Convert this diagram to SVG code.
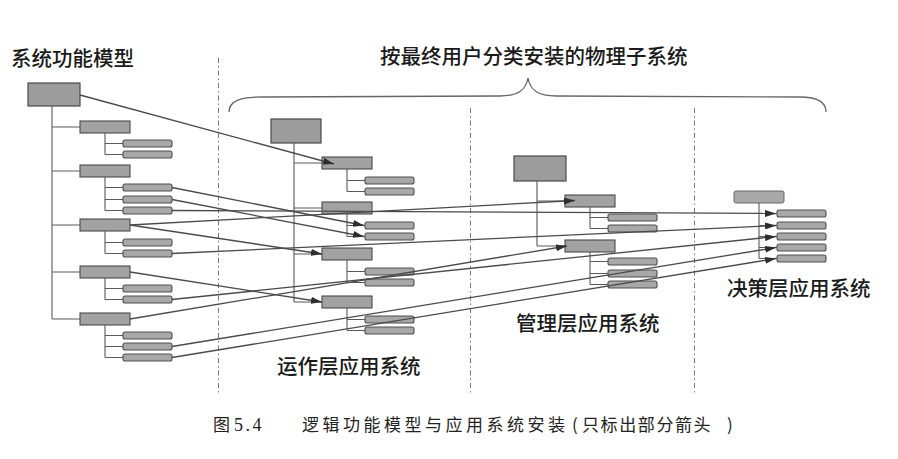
<svg xmlns="http://www.w3.org/2000/svg" width="898" height="459" viewBox="0 0 898 459">
<defs>
<style>
.b1{fill:#9c9c9c;stroke:#4a4a4a;stroke-width:1.2}
.b2{fill:#a2a2a2;stroke:#4a4a4a;stroke-width:1.1}
.b3{fill:#a8a8a8;stroke:#4f4f4f;stroke-width:1.1}
.bd{fill:#a9a9a9;stroke:#666;stroke-width:1}
.tree{fill:none;stroke:#5a5a5a;stroke-width:1.1}
.xa{fill:none;stroke:#4a4a4a;stroke-width:1.3;marker-end:url(#ah)}
.dash{fill:none;stroke:#777;stroke-width:1;stroke-dasharray:5 3 1.5 3}
.lbl{font-family:"Noto Sans CJK SC","Noto Sans",sans-serif;font-size:20.5px;font-weight:500;fill:#1a1a1a}
.cap{font-family:"Noto Sans CJK SC","Liberation Serif",serif;font-size:17px;fill:#222}
</style>
<marker id="ah" markerUnits="userSpaceOnUse" markerWidth="12" markerHeight="7" refX="11" refY="3.5" orient="auto">
<path d="M0,0 L11,3.5 L0,7 z" fill="#2e2e2e"/>
</marker>
</defs>
<rect width="898" height="459" fill="#ffffff"/>

<g id="frame">
<path class="dash" d="M218.5,58 V393"/>
<path class="dash" d="M470.5,108 V393"/>
<path class="dash" d="M694.5,108 V393"/>
<path d="M229,112 C229,101 240,97 262,97 L500,96 C518,96 526,90 528,78 C530,90 538,96 556,96 L800,97 C815,97 826,101 826,112" fill="none" stroke="#666" stroke-width="1.3"/>
</g>

<g id="labels">
<text class="lbl" x="11" y="66" font-size="20">系统功能模型</text>
<text class="lbl" x="380" y="64" font-size="21">按最终用户分类安装的物理子系统</text>
<text class="lbl" x="277" y="374">运作层应用系统</text>
<text class="lbl" x="516" y="331">管理层应用系统</text>
<text class="lbl" x="727" y="296">决策层应用系统</text>
<text class="cap" x="213" y="431">图</text>
<text x="234" y="431" font-family="Liberation Serif,serif" font-size="18" letter-spacing="2.5" fill="#222">5.4</text>
<text class="cap" x="302" y="431" letter-spacing="3.5">逻辑功能模型与应用系统安装</text>
<text class="cap" x="572" y="431">(</text>
<text class="cap" x="582" y="431" letter-spacing="1.6">只标出部分箭头</text>
<text class="cap" x="727" y="431">)</text>
</g>

<g id="fm-root"><rect class="b1" x="28" y="83" width="52" height="23"/></g>
<g id="fm-1"><rect class="b2" x="80" y="121" width="50" height="12"/></g>
<g id="fm-2"><rect class="b2" x="80" y="165" width="50" height="12"/></g>
<g id="fm-3"><rect class="b2" x="80" y="219" width="50" height="12"/></g>
<g id="fm-4"><rect class="b2" x="80" y="266" width="50" height="12"/></g>
<g id="fm-5"><rect class="b2" x="80" y="313" width="50" height="12"/></g>
<g id="fm-1-1"><rect class="b3" x="123" y="140" width="49" height="7" rx="2"/></g>
<g id="fm-1-2"><rect class="b3" x="123" y="151" width="49" height="7" rx="2"/></g>
<g id="fm-2-1"><rect class="b3" x="123" y="184" width="49" height="7" rx="2"/></g>
<g id="fm-2-2"><rect class="b3" x="123" y="196" width="49" height="7" rx="2"/></g>
<g id="fm-2-3"><rect class="b3" x="123" y="207" width="49" height="7" rx="2"/></g>
<g id="fm-3-1"><rect class="b3" x="123" y="239" width="49" height="7" rx="2"/></g>
<g id="fm-3-2"><rect class="b3" x="123" y="250" width="49" height="7" rx="2"/></g>
<g id="fm-4-1"><rect class="b3" x="123" y="285" width="49" height="7" rx="2"/></g>
<g id="fm-4-2"><rect class="b3" x="123" y="296" width="49" height="7" rx="2"/></g>
<g id="fm-5-1"><rect class="b3" x="123" y="332" width="49" height="7" rx="2"/></g>
<g id="fm-5-2"><rect class="b3" x="123" y="343" width="49" height="7" rx="2"/></g>
<g id="fm-5-3"><rect class="b3" x="123" y="354" width="49" height="7" rx="2"/></g>

<g id="op-root"><rect class="b1" x="271" y="119" width="50" height="24"/></g>
<g id="op-a"><rect class="b2" x="322" y="157" width="50" height="12"/></g>
<g id="op-b"><rect class="b2" x="322" y="202" width="50" height="12"/></g>
<g id="op-c"><rect class="b2" x="322" y="248" width="50" height="12"/></g>
<g id="op-d"><rect class="b2" x="322" y="296" width="50" height="12"/></g>
<g id="op-a-1"><rect class="b3" x="365" y="177" width="49" height="7" rx="2"/></g>
<g id="op-a-2"><rect class="b3" x="365" y="188" width="49" height="7" rx="2"/></g>
<g id="op-b-1"><rect class="b3" x="365" y="222" width="49" height="7" rx="2"/></g>
<g id="op-b-2"><rect class="b3" x="365" y="233" width="49" height="7" rx="2"/></g>
<g id="op-c-1"><rect class="b3" x="365" y="268" width="49" height="7" rx="2"/></g>
<g id="op-c-2"><rect class="b3" x="365" y="279" width="49" height="7" rx="2"/></g>
<g id="op-d-1"><rect class="b3" x="365" y="316" width="49" height="7" rx="2"/></g>
<g id="op-d-2"><rect class="b3" x="365" y="327" width="49" height="7" rx="2"/></g>

<g id="mg-root"><rect class="b1" x="514" y="156" width="52" height="25"/></g>
<g id="mg-a"><rect class="b2" x="565" y="195" width="50" height="12"/></g>
<g id="mg-b"><rect class="b2" x="565" y="240" width="50" height="12"/></g>
<g id="mg-a-1"><rect class="b3" x="608" y="214" width="49" height="7" rx="2"/></g>
<g id="mg-a-2"><rect class="b3" x="608" y="225" width="49" height="7" rx="2"/></g>
<g id="mg-b-1"><rect class="b3" x="608" y="258" width="49" height="7" rx="2"/></g>
<g id="mg-b-2"><rect class="b3" x="608" y="270" width="49" height="7" rx="2"/></g>
<g id="mg-b-3"><rect class="b3" x="608" y="281" width="49" height="7" rx="2"/></g>

<g id="dc-root"><rect class="bd" x="734" y="191" width="50" height="12" rx="2"/></g>
<g id="dc-1"><rect class="b3" x="777" y="210" width="49" height="7" rx="2"/></g>
<g id="dc-2"><rect class="b3" x="777" y="222" width="49" height="7" rx="2"/></g>
<g id="dc-3"><rect class="b3" x="777" y="233" width="49" height="7" rx="2"/></g>
<g id="dc-4"><rect class="b3" x="777" y="244" width="49" height="7" rx="2"/></g>
<g id="dc-5"><rect class="b3" x="777" y="255" width="49" height="7" rx="2"/></g>

<g id="connectors">
<path class="tree" d="M52,106 V319 M52,127 H80 M52,171 H80 M52,225 H80 M52,272 H80 M52,319 H80"/>
<path class="tree" d="M105,133 V154.5 M105,143.5 H123 M105,154.5 H123"/>
<path class="tree" d="M105,177 V210.5 M105,187.5 H123 M105,199.5 H123 M105,210.5 H123"/>
<path class="tree" d="M105,231 V253.5 M105,242.5 H123 M105,253.5 H123"/>
<path class="tree" d="M105,278 V299.5 M105,288.5 H123 M105,299.5 H123"/>
<path class="tree" d="M105,325 V357.5 M105,335.5 H123 M105,346.5 H123 M105,357.5 H123"/>
<path class="tree" d="M294,143 V302 M294,163 H322 M294,208 H322 M294,254 H322 M294,302 H322"/>
<path class="tree" d="M347,169 V191.5 M347,180.5 H365 M347,191.5 H365"/>
<path class="tree" d="M347,214 V236.5 M347,225.5 H365 M347,236.5 H365"/>
<path class="tree" d="M347,260 V282.5 M347,271.5 H365 M347,282.5 H365"/>
<path class="tree" d="M347,308 V330.5 M347,319.5 H365 M347,330.5 H365"/>
<path class="tree" d="M537,181 V246 M537,201 H565 M537,246 H565"/>
<path class="tree" d="M590,207 V228.5 M590,217.5 H608 M590,228.5 H608"/>
<path class="tree" d="M590,252 V284.5 M590,261.5 H608 M590,273.5 H608 M590,284.5 H608"/>
<path class="tree" d="M759,203 V258.5 M759,213.5 H777 M759,225.5 H777 M759,236.5 H777 M759,247.5 H777 M759,258.5 H777"/>
<path class="xa" d="M80,95 L334,164"/>
<path class="xa" d="M172,187.5 L364,225.5"/>
<path class="xa" d="M172,199.5 L364,236.5"/>
<path class="xa" d="M172,210.5 L776,213.5"/>
<path class="xa" d="M130,225 L575,200.5"/>
<path class="xa" d="M130,225 L322,254"/>
<path class="xa" d="M172,253.5 L776,225.5"/>
<path class="xa" d="M130,272 L322,302"/>
<path class="xa" d="M172,299.5 L776,236.5"/>
<path class="xa" d="M130,319 L567,246"/>
<path class="xa" d="M172,346.5 L776,247.5"/>
<path class="xa" d="M172,357.5 L776,258.5"/>
</g>
</svg>
